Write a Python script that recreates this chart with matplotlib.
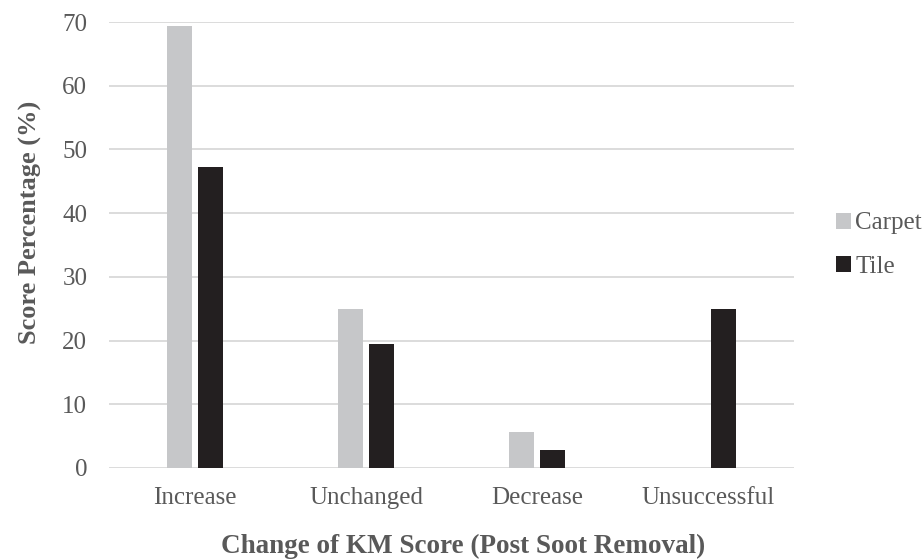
import matplotlib.pyplot as plt
import numpy as np

categories = ['Increase', 'Unchanged', 'Decrease', 'Unsuccessful']
carpet = [69.4, 25.0, 5.6, 0.0]
tile = [47.2, 19.4, 2.8, 25.0]
yticks = [0, 10, 20, 30, 40, 50, 60, 70]

def main():
    plt.rcParams['font.family'] = ['Liberation Serif', 'DejaVu Serif']
    txt = '#595959'

    fig = plt.figure(figsize=(9.24, 5.6), dpi=100)
    ax = fig.add_axes([0.1185, 0.1643, 0.7403, 0.7964])

    x = np.arange(len(categories))
    w = 0.146
    off = 0.093
    ax.bar(x - off, carpet, w, color='#c6c7c9', label='Carpet', zorder=3)
    ax.bar(x + off, tile, w, color='#231f20', label='Tile', zorder=3)

    ax.set_xlim(-0.5, len(categories) - 0.5)
    ax.set_ylim(0, 70)
    ax.set_yticks(yticks)
    ax.set_xticks(x)
    ax.set_xticklabels(categories)
    ax.yaxis.grid(True, color='#d9d9d9', linewidth=1.3, zorder=0)
    for s in ax.spines.values():
        s.set_visible(False)
    ax.tick_params(length=0, labelsize=18, colors=txt)
    ax.tick_params(axis='y', pad=16)
    ax.tick_params(axis='x', pad=14)

    ax.set_xlabel('Change of KM Score (Post Soot Removal)', fontsize=19.5,
                  fontweight='bold', color=txt)
    ax.xaxis.set_label_coords(0.517, -0.148)
    ax.set_ylabel('Score Percentage (%)', fontsize=19,
                  fontweight='bold', color=txt)
    ax.yaxis.set_label_coords(-0.099, 0.55)

    ax.legend(loc='center left', bbox_to_anchor=(1.048, 0.5), frameon=False,
              fontsize=18, labelcolor=txt, handlelength=0.6, handleheight=0.6,
              handletextpad=0.15, labelspacing=0.85, borderaxespad=0)

    fig.savefig('out.png', dpi=100)

if __name__ == '__main__':
    main()
